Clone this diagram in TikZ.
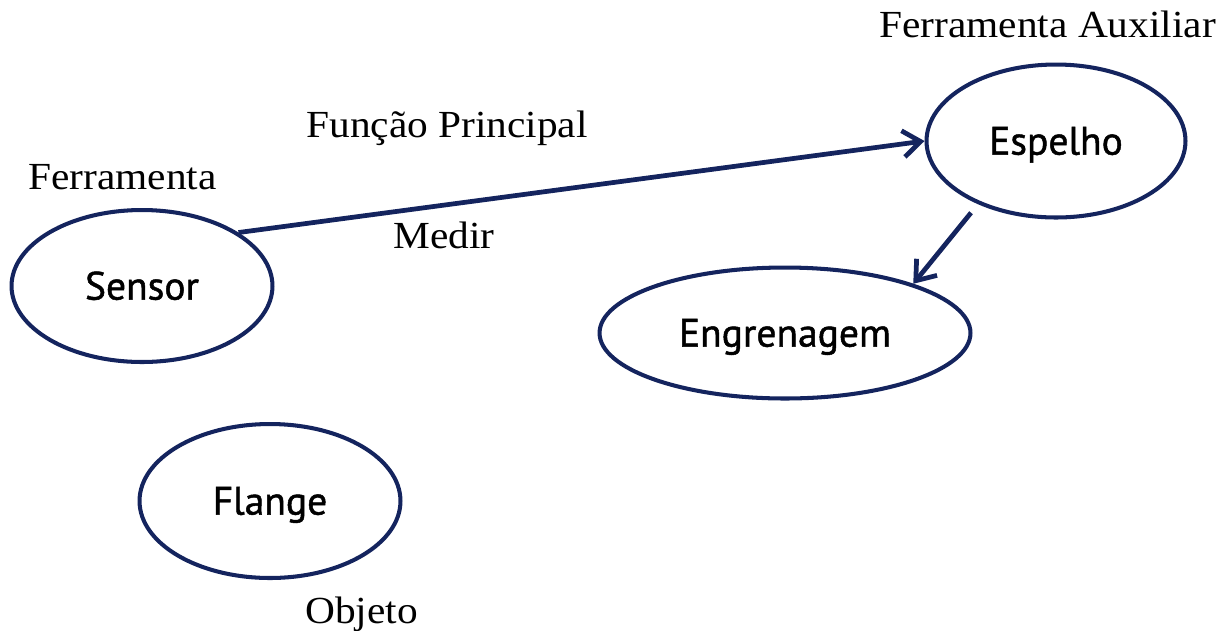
\documentclass[tikz,border=0pt]{standalone}
\usepackage{fontspec}
\setmainfont{Liberation Serif}
\newfontfamily\labfont[FakeStretch=1.08]{Liberation Serif}
\newfontfamily\nodefont[FakeBold=1.2]{PT Sans}
\usetikzlibrary{shapes.geometric,arrows.meta}
\definecolor{navy}{HTML}{14245E}
\begin{document}
\begin{tikzpicture}[x=0.02cm,y=-0.02cm,
  elli/.style={ellipse,draw=navy,line width=2.3pt,inner sep=0pt,
    text height=15.5pt,text depth=0pt,
    font={\nodefont\fontsize{22.5}{25}\selectfont}},
  lab/.style={anchor=base west,inner sep=0pt,
    font={\labfont\fontsize{21.8}{25}\selectfont}},
  conn/.style={draw=navy,line width=2.7pt,
    -{Straight Barb[length=10pt,width=15pt]}}]
\useasboundingbox (0,0) rectangle (1227,630);
% ellipses
\node[elli,minimum width=5.22cm,minimum height=3.04cm] (sensor) at (142,286) {Sensor};
\node[elli,minimum width=5.18cm,minimum height=3.06cm] (espelho) at (1056,141) {Espelho};
\node[elli,minimum width=7.42cm,minimum height=2.62cm] (engrenagem) at (785,333) {Engrenagem};
\node[elli,minimum width=5.22cm,minimum height=3.08cm] (flange) at (270,501) {Flange};
% labels
\node[lab] (lferr) at (28,189) {Ferramenta};
\node[lab] (lfunc) at (306,137) {Função Principal};
\node[lab] (lmed) at (393,248) {Medir};
\node[lab] (laux) at (879,37) {Ferramenta Auxiliar};
\node[lab] (lobj) at (305,623) {Objeto};
% connectors
\draw[conn] (sensor.29) -- (espelho.west);
\draw[conn,shorten <=0.22cm] (espelho.219) -- (engrenagem.21);
\end{tikzpicture}
\end{document}
